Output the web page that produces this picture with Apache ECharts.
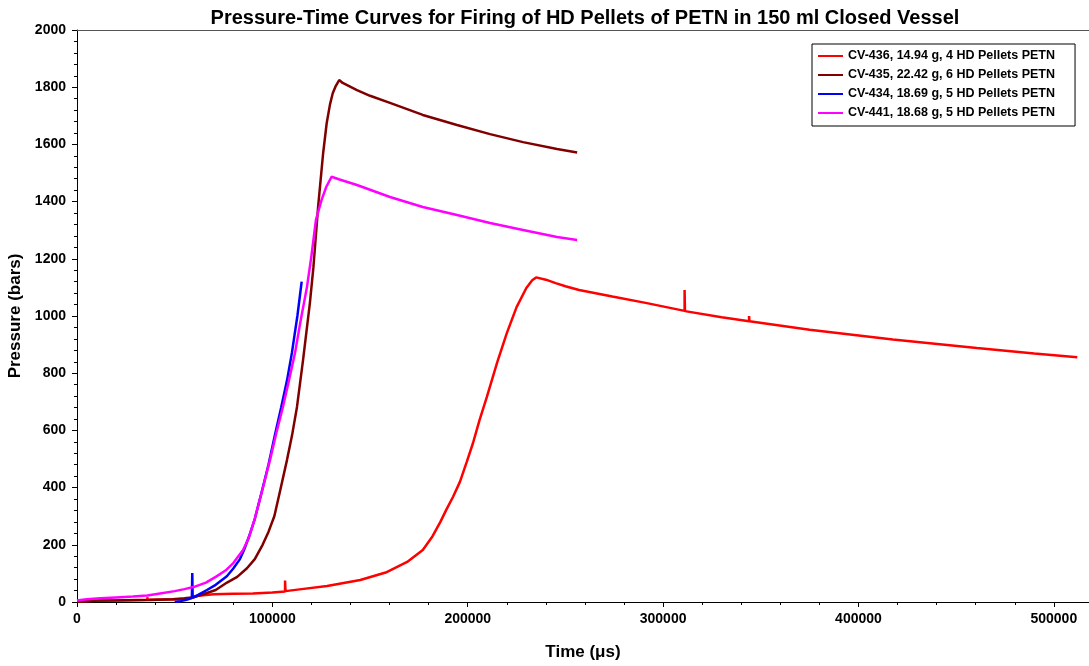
<!DOCTYPE html>
<html>
<head>
<meta charset="utf-8">
<title>Pressure-Time Curves</title>
<script src="https://cdn.jsdelivr.net/npm/echarts@6/dist/echarts.min.js"></script>
<style>
  html, body { margin: 0; padding: 0; background: #fff; }
  #chart { width: 1089px; height: 666px; }
</style>
</head>
<body>
<div id="chart"></div>
<script>
// Series names (legend order)
const seriesNames = [
  'CV-436, 14.94 g, 4 HD Pellets PETN',
  'CV-435, 22.42 g, 6 HD Pellets PETN',
  'CV-434, 18.69 g, 5 HD Pellets PETN',
  'CV-441, 18.68 g, 5 HD Pellets PETN'
];

// CV-436: time (µs) and pressure (bars); repeated times are gauge spikes
const cv436Time = [0, 10000, 20000, 30000, 36000, 36000, 36200, 45000, 55000, 58000, 62000, 70000, 80000, 90000, 100000,
  106500, 106500, 106700, 115000, 128000, 145000, 158000, 169000, 177000, 182000, 186000, 189000, 192500, 196000,
  199500, 202700, 206000, 209800, 215000, 220000, 225000, 230000, 233000, 235000, 240000, 245000, 250000, 257000,
  274000, 291700, 311000, 311000, 311200, 330000, 344000, 344000, 344200, 375000, 417600, 460600, 490000, 512000];
const cv436Pressure = [3, 4, 5, 7, 8, 17, 8, 9, 10, 14, 22, 27, 29, 30, 33,
  37, 75, 38, 45, 56, 77, 103, 140, 182, 230, 280, 322, 368, 420,
  490, 556, 635, 717, 836, 940, 1031, 1098, 1125, 1135, 1127, 1115, 1104, 1091,
  1068, 1045, 1018, 1091, 1017, 996, 982, 1000, 982, 952, 918, 888, 869, 856];

// CV-435
const cv435Time = [0, 12000, 25000, 37000, 49000, 55000, 60000, 65000, 71000, 76800, 82000, 87000, 91000, 95000,
  98000, 101000, 104000, 107500, 110000, 112600, 115700, 119200, 121000, 123400, 126000, 127800, 129500, 130900,
  132500, 134200, 136000, 143300, 150000, 160200, 177000, 194500, 211400, 228300, 245700, 256000];
const cv435Pressure = [2, 5, 6, 7, 10, 13, 17, 28, 42, 68, 88, 118, 150, 200,
  245, 300, 390, 497, 580, 682, 846, 1045, 1170, 1381, 1570, 1674, 1740, 1779,
  1805, 1825, 1815, 1790, 1770, 1745, 1703, 1668, 1636, 1608, 1584, 1572];

// CV-434
const cv434Time = [50000, 53000, 56000, 58800, 59000, 59200, 62000, 66500, 71000, 76700, 80000, 83400, 85500, 88000,
  91000, 94000, 98000, 101500, 104500, 107500, 110000, 112800, 115000];
const cv434Pressure = [0, 3, 8, 14, 101, 15, 25, 42, 60, 90, 117, 150, 182, 228,
  290, 370, 480, 590, 680, 775, 871, 1000, 1120];

// CV-441
const cv441Time = [0, 5000, 12000, 20000, 28600, 36000, 42500, 50000, 55000, 60000, 66000, 71000, 76000, 80000,
  85000, 88000, 91100, 95000, 98800, 102000, 105400, 108500, 111600, 114500, 117700, 120000, 122300, 125200,
  127500, 130300, 134000, 143300, 160200, 177000, 194500, 211400, 228300, 245700, 256000];
const cv441Pressure = [5, 10, 13, 16, 19, 23, 30, 38, 45, 53, 68, 88, 110, 136,
  182, 225, 294, 395, 497, 590, 682, 775, 871, 985, 1101, 1210, 1336, 1406,
  1450, 1487, 1478, 1458, 1416, 1381, 1353, 1325, 1301, 1276, 1266];

const seriesColors = ['#FF0000', '#800000', '#0000FF', '#FF00FF'];
const timeData = [cv436Time, cv435Time, cv434Time, cv441Time];
const pressureData = [cv436Pressure, cv435Pressure, cv434Pressure, cv441Pressure];

const FONT = '"Liberation Sans", Arial, sans-serif';

const chart = echarts.init(document.getElementById('chart'), null, { renderer: 'canvas' });

const series = seriesNames.map((name, i) => ({
  name: name,
  type: 'line',
  xAxisIndex: 0,
  yAxisIndex: 0,
  showSymbol: false,
  symbol: 'none',
  animation: false,
  lineStyle: { color: seriesColors[i], width: 2.5 },
  itemStyle: { color: seriesColors[i] },
  data: timeData[i].map((t, k) => [t, pressureData[i][k]])
}));

const axisText = { color: '#000', fontFamily: FONT, fontWeight: 'bold', fontSize: 14 };
const plain = v => String(v);

chart.setOption({
  animation: false,
  backgroundColor: '#fff',
  title: {
    text: 'Pressure-Time Curves for Firing of HD Pellets of PETN in 150 ml Closed Vessel',
    left: 580,
    textAlign: 'center',
    top: 3,
    textStyle: { fontFamily: FONT, fontWeight: 'bold', fontSize: 20, color: '#000' }
  },
  legend: {
    data: seriesNames,
    orient: 'vertical',
    left: 812,
    top: 44,
    icon: 'rect',
    itemWidth: 25,
    itemHeight: 2,
    itemGap: 5,
    padding: [5, 20, 6, 6],
    borderColor: '#000',
    borderWidth: 1,
    backgroundColor: '#fff',
    textStyle: { fontFamily: FONT, fontWeight: 'bold', fontSize: 12.5, color: '#000', lineHeight: 14 }
  },
  grid: { left: 77, right: 0, top: 30, bottom: 64, containLabel: false, outerBoundsMode: 'none' },
  xAxis: [{
    type: 'value',
    min: 0,
    max: 518000,
    interval: 100000,
    name: 'Time (\u03BCs)',
    nameLocation: 'middle',
    nameGap: 42,
    nameTextStyle: { fontFamily: FONT, fontWeight: 'bold', fontSize: 17, color: '#000' },
    axisLine: { show: true, onZero: false, lineStyle: { color: '#000', width: 1 } },
    axisTick: { show: true, length: 5, lineStyle: { color: '#000' } },
    minorTick: { show: true, splitNumber: 5, length: 3, lineStyle: { color: '#000' } },
    splitLine: { show: false },
    axisLabel: Object.assign({ margin: 10, showMaxLabel: false, formatter: plain }, axisText)
  }, {
    type: 'value',
    position: 'top',
    min: 0,
    max: 518000,
    axisLine: { show: true, onZero: false, lineStyle: { color: '#555', width: 1 } },
    axisTick: { show: false },
    axisLabel: { show: false },
    splitLine: { show: false }
  }],
  yAxis: {
    type: 'value',
    min: 0,
    max: 2000,
    interval: 200,
    name: 'Pressure (bars)',
    nameLocation: 'middle',
    nameGap: 48,
    nameTextStyle: { fontFamily: FONT, fontWeight: 'bold', fontSize: 17, color: '#000' },
    axisLine: { show: true, onZero: false, lineStyle: { color: '#000', width: 1 } },
    axisTick: { show: true, length: 5, lineStyle: { color: '#000' } },
    minorTick: { show: true, splitNumber: 5, length: 3, lineStyle: { color: '#000' } },
    splitLine: { show: false },
    axisLabel: Object.assign({ margin: 11, formatter: plain }, axisText)
  },
  series: series
});
</script>
</body>
</html>
